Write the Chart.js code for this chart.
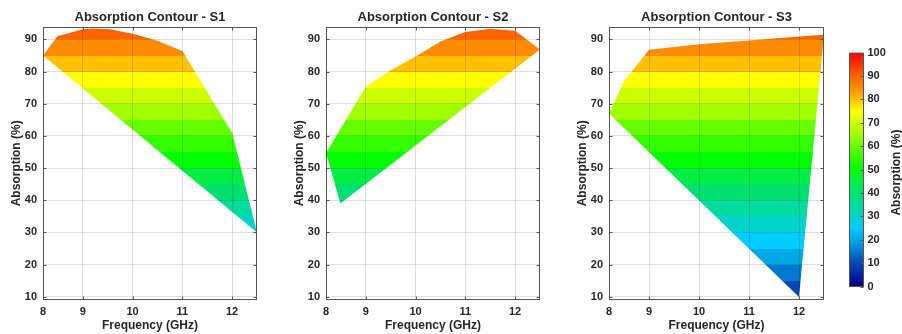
<!DOCTYPE html>
<html>
<head>
<meta charset="utf-8">
<script src="https://cdn.jsdelivr.net/npm/chart.js@4.4.1/dist/chart.umd.min.js"></script>
<style>
  html, body { margin: 0; padding: 0; background: #fff; }
  #wrap { position: relative; width: 902px; height: 334px; overflow: hidden; }
  .panel { position: absolute; top: 0; height: 334px; }
</style>
</head>
<body>
<div id="wrap">
  <div class="panel" style="left:7px;width:250px"><canvas id="c1"></canvas></div>
  <div class="panel" style="left:290px;width:250px"><canvas id="c2"></canvas></div>
  <div class="panel" style="left:573px;width:251px"><canvas id="c3"></canvas></div>
  <div class="panel" style="left:849px;width:53px"><canvas id="cb"></canvas></div>
</div>
<script>
// axes
const xMin = 8.2, xMax = 12.5, yMin = 9, yMax = 94;
const freqTicks = [8.2, 9, 10, 11, 12];
const freqTickLabels = ['8', '9', '10', '11', '12'];
const absTicks = [10, 20, 30, 40, 50, 60, 70, 80, 90];
const levels = [0, 5, 10, 15, 20, 25, 30, 35, 40, 45, 50, 55, 60, 65, 70, 75, 80, 85, 90, 95, 100];

// outline of each filled contour region (GHz, %)
const s1Freq = [8.2, 8.49, 9.0, 9.2, 9.55, 10.0, 10.5, 11.0, 12.0, 12.5, 8.2];
const s1Abs  = [85, 91, 93.2, 93.4, 93.2, 91.8, 89.6, 86.4, 61, 30, 85];
const s2Freq = [8.2, 9.0, 9.5, 10.0, 10.5, 11.0, 11.5, 12.0, 12.5, 8.49, 8.2];
const s2Abs  = [54.7, 75.4, 80.4, 84.7, 89.4, 92.3, 93.3, 92.7, 86.9, 39, 54.7];
const s3Freq = [8.2, 8.5, 9.0, 10.0, 11.0, 12.0, 12.5, 12.0, 8.2];
const s3Abs  = [67, 77, 86.8, 88.5, 89.7, 90.9, 91.5, 9.9, 67];

// colour map, one colour per 5 % level
const cmap = ['#000080', '#0024a0', '#0048b4', '#0078cc', '#00a8e6', '#00ccff', '#00d4c8', '#00dc9c',
  '#00e070', '#00ee44', '#00ff00', '#33ff00', '#66ff00', '#a0ff00', '#ccff00', '#ffff00',
  '#ffc000', '#ff8c00', '#ff6400', '#ff3000', '#ff0000'];

const FONT = 'Arial, "Liberation Sans", Helvetica, sans-serif';
const ink = '#262626';
const gridColor = 'rgba(0,0,0,0.13)';
const boxColor = '#555';

function bandFill(ctx) {
  const chart = ctx.chart;
  if (!chart.chartArea) return 'rgba(0,0,0,0)';
  const y = chart.scales.y;
  const g = chart.ctx.createLinearGradient(0, y.getPixelForValue(0), 0, y.getPixelForValue(100));
  for (let i = 0; i < levels.length - 1; i++) {
    g.addColorStop(levels[i] / 100, cmap[i]);
    g.addColorStop(levels[i + 1] / 100, cmap[i]);
  }
  return g;
}

function barFill(ctx) {
  const chart = ctx.chart;
  if (!chart.chartArea) return 'rgba(0,0,0,0)';
  const y = chart.scales.y;
  const g = chart.ctx.createLinearGradient(0, y.getPixelForValue(0), 0, y.getPixelForValue(100));
  levels.forEach((v, i) => g.addColorStop(v / 100, cmap[i]));
  return g;
}

// box round the plot area with inward tick marks
const boxPlugin = {
  id: 'box',
  afterDraw(chart, args, opts) {
    const { ctx, chartArea: a } = chart;
    const L = Math.round(a.left) + 0.5, R = Math.round(a.right) - 0.5;
    const T = Math.round(a.top) + 0.5, B = Math.round(a.bottom) - 0.5;
    ctx.save();
    ctx.strokeStyle = boxColor;
    ctx.lineWidth = 1;
    ctx.strokeRect(L, T, R - L, B - T);
    ctx.beginPath();
    const x = chart.scales.x, y = chart.scales.y;
    if (x && x.options.display !== false) {
      x.ticks.forEach(t => {
        const px = Math.round(x.getPixelForValue(t.value)) + 0.5;
        ctx.moveTo(px, B); ctx.lineTo(px, B - 3);
        ctx.moveTo(px, T); ctx.lineTo(px, T + 3);
      });
    }
    y.ticks.forEach(t => {
      const py = Math.round(y.getPixelForValue(t.value)) + 0.5;
      if (!opts.rightOnly) { ctx.moveTo(L, py); ctx.lineTo(L + 3, py); }
      ctx.moveTo(R, py); ctx.lineTo(R - 3, py);
    });
    ctx.stroke();
    if (opts.label) {
      ctx.fillStyle = ink;
      ctx.font = 'bold 12px ' + FONT;
      ctx.textAlign = 'center';
      ctx.textBaseline = 'middle';
      ctx.translate(opts.labelX, (a.top + a.bottom) / 2 + 3);
      ctx.rotate(-Math.PI / 2);
      ctx.fillText(opts.label, 0, 0);
    }
    ctx.restore();
  }
};

function makePanel(id, title, freq, abs) {
  return new Chart(document.getElementById(id), {
    type: 'line',
    data: {
      datasets: [{
        data: freq.map((f, i) => ({ x: f, y: abs[i] })),
        fill: 'shape',
        backgroundColor: bandFill,
        borderColor: 'rgba(0,0,0,0)',
        borderWidth: 0,
        pointRadius: 0,
        pointHoverRadius: 0,
        tension: 0
      }]
    },
    options: {
      responsive: true, maintainAspectRatio: false, animation: false, events: [],
      layout: { padding: 0 },
      plugins: {
        legend: { display: false },
        tooltip: { enabled: false },
        title: {
          display: true, text: title, fullSize: false, color: ink,
          font: { family: FONT, size: 13, weight: 'bold', lineHeight: 1.2 },
          padding: { top: 10, bottom: 1 }
        },
        box: {}
      },
      scales: {
        x: {
          type: 'linear', min: xMin, max: xMax,
          afterBuildTicks: s => { s.ticks = freqTicks.map(v => ({ value: v })); },
          afterFit: s => { s.height = 34; },
          ticks: {
            callback: (v, i) => freqTickLabels[i], autoSkip: false, maxRotation: 0,
            padding: 5, color: ink, font: { family: FONT, size: 11, weight: 'bold' }
          },
          grid: { color: gridColor, drawTicks: false, z: 1 },
          border: { display: false },
          title: {
            display: true, text: 'Frequency (GHz)', color: ink,
            font: { family: FONT, size: 12, weight: 'bold' }, padding: { top: 0, bottom: 1 }
          }
        },
        y: {
          type: 'linear', min: yMin, max: yMax,
          afterBuildTicks: s => { s.ticks = absTicks.map(v => ({ value: v })); },
          afterFit: s => { s.width = 36; },
          ticks: { padding: 6, color: ink, font: { family: FONT, size: 11, weight: 'bold' } },
          grid: { color: gridColor, drawTicks: false, z: 1 },
          border: { display: false },
          title: {
            display: true, text: 'Absorption (%)', color: ink,
            font: { family: FONT, size: 12, weight: 'bold' }, padding: { top: 2, bottom: 0 }
          }
        }
      }
    },
    plugins: [boxPlugin]
  });
}

makePanel('c1', 'Absorption Contour - S1', s1Freq, s1Abs);
makePanel('c2', 'Absorption Contour - S2', s2Freq, s2Abs);
makePanel('c3', 'Absorption Contour - S3', s3Freq, s3Abs);

// colour bar
new Chart(document.getElementById('cb'), {
  type: 'bar',
  data: {
    labels: [''],
    datasets: [{ data: [[0, 100]], backgroundColor: barFill, borderWidth: 0, barPercentage: 1, categoryPercentage: 1 }]
  },
  options: {
    responsive: true, maintainAspectRatio: false, animation: false, events: [],
    layout: { padding: { top: 52.5, bottom: 47.3, left: 0, right: 0 } },
    plugins: {
      legend: { display: false }, tooltip: { enabled: false },
      box: { rightOnly: true, label: 'Absorption (%)', labelX: 48 }
    },
    scales: {
      x: { display: false },
      y: {
        position: 'right', min: 0, max: 100,
        afterBuildTicks: s => { s.ticks = levels.filter(v => v % 10 === 0).map(v => ({ value: v })); },
        afterFit: s => { s.width = 38.5; },
        ticks: { padding: 4, color: ink, font: { family: FONT, size: 11, weight: 'bold' } },
        grid: { display: false, drawTicks: false },
        border: { display: false }
      }
    }
  },
  plugins: [boxPlugin]
});
</script>
</body>
</html>
